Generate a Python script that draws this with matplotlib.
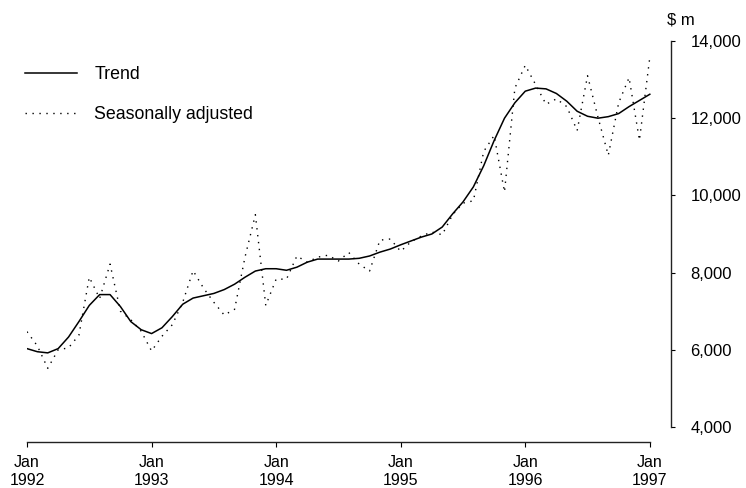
import numpy as np
import matplotlib.pyplot as plt

plt.rcParams['font.family'] = ['Liberation Sans', 'DejaVu Sans']

# monthly values, Jan 1992 .. Jan 1997 ($ m)
trend = [6030, 5950, 5920, 6030, 6330, 6730, 7150, 7430, 7430, 7120, 6730, 6520,
         6420, 6570, 6860, 7180, 7340, 7400, 7460, 7560, 7700, 7880, 8040, 8100,
         8100, 8060, 8140, 8270, 8350, 8350, 8350, 8350, 8370, 8430, 8530, 8610,
         8720, 8820, 8920, 9000, 9180, 9520, 9830, 10220, 10770, 11420, 12000, 12400,
         12700, 12780, 12760, 12640, 12440, 12180, 12050, 12000, 12040, 12120, 12300, 12460,
         12620]
seas_adj = [6470, 6100, 5520, 6000, 6050, 6380, 7880, 7330, 8220, 7000, 6780, 6480,
            5970, 6350, 6650, 7230, 8050, 7600, 7230, 6900, 7050, 8400, 9500, 7150,
            7830, 7830, 8430, 8270, 8400, 8450, 8300, 8520, 8220, 8040, 8840, 8870,
            8550, 8800, 8950, 9050, 8980, 9500, 9800, 9860, 11140, 11550, 10090, 12780,
            13370, 12870, 12360, 12500, 12300, 11680, 13100, 12030, 11040, 12400, 13050, 11430,
            13580]
tick_labels = ['Jan\n1992', 'Jan\n1993', 'Jan\n1994', 'Jan\n1995', 'Jan\n1996', 'Jan\n1997']
yticks = [4000, 6000, 8000, 10000, 12000, 14000]

month = np.arange(len(trend))

fig = plt.figure(figsize=(7.46, 4.88), dpi=100)
ax = fig.add_axes([27/746, 46/488, 644/746, 401/488])

ax.plot(month, trend, color='black', lw=1.1, label='Trend')
ax.plot(month, seas_adj, color='black', lw=1.0, ls=(0, (1, 4)), label='Seasonally adjusted')

ax.set_xlim(0, 62.04)
ax.set_ylim(3611, 14000)

ax.spines['left'].set_visible(False)
ax.spines['top'].set_visible(False)
ax.spines['right'].set_bounds(4000, 14000)
ax.spines['bottom'].set_bounds(0, 60)
for s in ['right', 'bottom']:
    ax.spines[s].set_linewidth(1.0)
    ax.spines[s].set_color('#222222')

ax.yaxis.tick_right()
ax.set_yticks(yticks)
ax.set_yticklabels([f'{v:,}' for v in yticks])
ax.set_xticks(month[::12])
ax.set_xticklabels(tick_labels, linespacing=1.2)
ax.tick_params(axis='y', direction='out', length=3, width=0.8, pad=11, labelsize=12)
ax.tick_params(axis='x', direction='out', length=3.6, width=0.8, pad=6, labelsize=11.5)

fig.text(667/746, 1 - 20/488, '$ m', ha='left', va='center', fontsize=12)

ax.legend(loc='upper left', bbox_to_anchor=(25/746, 1 - 66/488), bbox_transform=fig.transFigure,
          frameon=False, fontsize=12.8, handlelength=2.9, handletextpad=1.0,
          labelspacing=1.32, borderpad=0, borderaxespad=0)

fig.savefig('out.png', dpi=100)
